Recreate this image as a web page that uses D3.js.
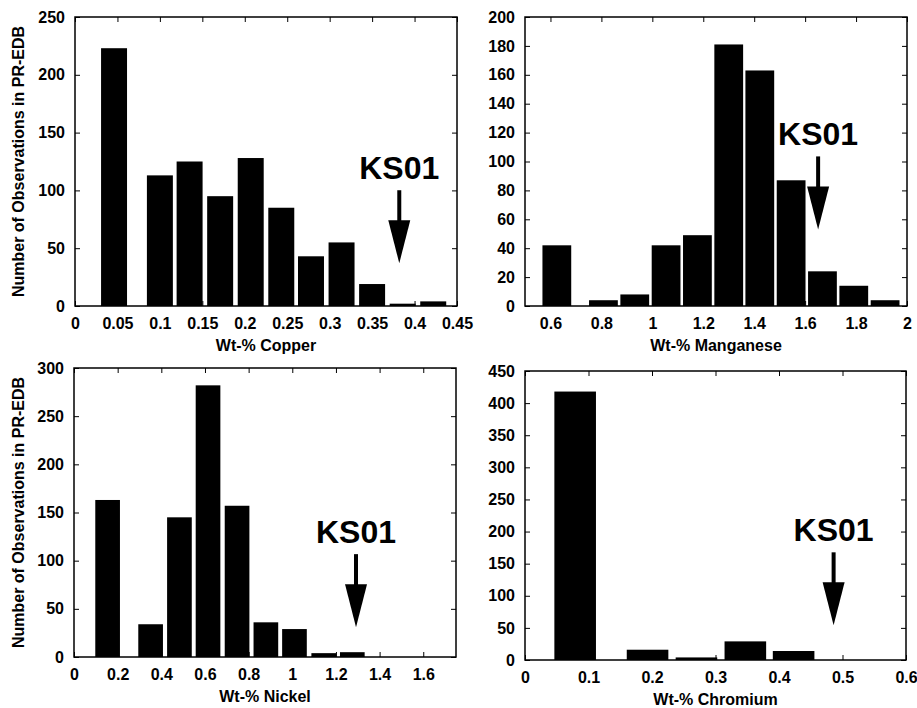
<!doctype html>
<html>
  <head>
    <script src="https://cdn.jsdelivr.net/npm/d3@7"></script>
    <style>
      body { margin: 0; background: #fff; }
      text { font-family: "Liberation Sans", Arial, sans-serif; font-weight: bold; }
      .tick text { font-size: 16px; }
      .axis-title { font-size: 16px; }
      .ks { font-size: 32px; }
    </style>
  </head>
  <body>
    <script>
      // histogram bins (bin centre, wt-%) and counts
      var cuBins   = [0.046, 0.100, 0.135, 0.171, 0.207, 0.243, 0.278, 0.314, 0.350, 0.386, 0.422];
      var cuCounts = [223, 113, 125, 95, 128, 85, 43, 55, 19, 2, 4];

      var mnBins   = [0.625, 0.808, 0.931, 1.054, 1.177, 1.300, 1.422, 1.545, 1.668, 1.791, 1.914];
      var mnCounts = [42, 4, 8, 42, 49, 181, 163, 87, 24, 14, 4];

      var niBins   = [0.154, 0.351, 0.483, 0.614, 0.747, 0.879, 1.010, 1.144, 1.275];
      var niCounts = [163, 34, 145, 282, 157, 36, 29, 4, 5];

      var crBins   = [0.079, 0.193, 0.270, 0.347, 0.423];
      var crCounts = [418, 16, 4, 29, 14];

      // tick values
      var cuXTicks = [0, 0.05, 0.1, 0.15, 0.2, 0.25, 0.3, 0.35, 0.4, 0.45];
      var cuYTicks = [0, 50, 100, 150, 200, 250];
      var mnXTicks = [0.6, 0.8, 1, 1.2, 1.4, 1.6, 1.8, 2];
      var mnYTicks = [0, 20, 40, 60, 80, 100, 120, 140, 160, 180, 200];
      var niXTicks = [0, 0.2, 0.4, 0.6, 0.8, 1, 1.2, 1.4, 1.6];
      var niYTicks = [0, 50, 100, 150, 200, 250, 300];
      var crXTicks = [0, 0.1, 0.2, 0.3, 0.4, 0.5, 0.6];
      var crYTicks = [0, 50, 100, 150, 200, 250, 300, 350, 400, 450];

      // KS01 arrow: composition and arrow tip height (counts)
      var ksLabel = "KS01";
      var ksX = [0.382, 1.651, 1.292, 0.486];
      var ksY = [37, 53, 31, 54];

      var xTitles = ["Wt-% Copper", "Wt-% Manganese", "Wt-% Nickel", "Wt-% Chromium"];
      var yTitle = "Number of Observations in PR-EDB";

      var panels = [
        {bins: cuBins, counts: cuCounts, xDom: [0, 0.45], yDom: [0, 250], xTicks: cuXTicks, yTicks: cuYTicks,
         barW: 0.0306, box: {l: 75, r: 457, t: 17, b: 306}, ytitle: true},
        {bins: mnBins, counts: mnCounts, xDom: [0.5, 2], yDom: [0, 200], xTicks: mnXTicks, yTicks: mnYTicks,
         barW: 0.113, box: {l: 525, r: 907, t: 17, b: 306}, ytitle: false},
        {bins: niBins, counts: niCounts, xDom: [0, 1.75], yDom: [0, 300], xTicks: niXTicks, yTicks: niYTicks,
         barW: 0.113, box: {l: 74, r: 456, t: 368, b: 657}, ytitle: true},
        {bins: crBins, counts: crCounts, xDom: [0, 0.6], yDom: [0, 450], xTicks: crXTicks, yTicks: crYTicks,
         barW: 0.0655, box: {l: 525, r: 906, t: 371, b: 660}, ytitle: false}
      ];

      var svg = d3.select("body").append("svg")
                  .attr("width", 917)
                  .attr("height", 708);

      panels.forEach(function(p, k) {
        var b = p.box;
        var x = d3.scaleLinear().domain(p.xDom).range([b.l, b.r]);
        var y = d3.scaleLinear().domain(p.yDom).range([b.b, b.t]);
        var g = svg.append("g");

        // bars
        g.selectAll("rect.bar")
          .data(p.bins)
          .enter().append("rect")
          .attr("class", "bar")
          .attr("x", function(d) { return x(d - p.barW / 2); })
          .attr("width", function(d) { return x(d + p.barW / 2) - x(d - p.barW / 2); })
          .attr("y", function(d, i) { return y(p.counts[i]); })
          .attr("height", function(d, i) { return y(0) - y(p.counts[i]); })
          .attr("fill", "#000");

        // axes, ticks pointing inward on all sides
        var fmt = function(d) { return String(d); };
        g.append("g").attr("transform", "translate(0," + b.b + ")")
          .call(d3.axisBottom(x).tickValues(p.xTicks).tickFormat(fmt).tickSizeInner(-5).tickSizeOuter(0).tickPadding(12));
        g.append("g").attr("transform", "translate(0," + b.t + ")")
          .call(d3.axisTop(x).tickValues(p.xTicks).tickFormat("").tickSizeInner(-5).tickSizeOuter(0));
        g.append("g").attr("transform", "translate(" + b.l + ",0)")
          .call(d3.axisLeft(y).tickValues(p.yTicks).tickFormat(fmt).tickSizeInner(-5).tickSizeOuter(0).tickPadding(10));
        g.append("g").attr("transform", "translate(" + b.r + ",0)")
          .call(d3.axisRight(y).tickValues(p.yTicks).tickFormat("").tickSizeInner(-5).tickSizeOuter(0));

        g.selectAll(".domain").remove();
        g.selectAll(".tick line").attr("stroke", "#000").attr("stroke-width", 1);
        g.selectAll(".tick text").attr("fill", "#000");

        // frame
        g.append("rect")
          .attr("x", b.l).attr("y", b.t)
          .attr("width", b.r - b.l).attr("height", b.b - b.t)
          .attr("fill", "none").attr("stroke", "#000").attr("stroke-width", 1.5);

        // titles
        g.append("text").attr("class", "axis-title")
          .attr("x", (b.l + b.r) / 2).attr("y", b.b + 45)
          .attr("text-anchor", "middle")
          .text(xTitles[k]);
        if (p.ytitle) {
          g.append("text").attr("class", "axis-title")
            .attr("transform", "translate(18," + (b.t + b.b) / 2 + ") rotate(-90)")
            .attr("text-anchor", "middle")
            .attr("dy", "0.35em")
            .text(yTitle);
        }

        // KS01 arrow
        var ax = x(ksX[k]), tip = y(ksY[k]);
        var headLen = 43, headHalf = 11, shaftLen = 30;
        g.append("path")
          .attr("d", "M" + ax + "," + tip +
                     "L" + (ax - headHalf) + "," + (tip - headLen) +
                     "L" + (ax + headHalf) + "," + (tip - headLen) + "Z")
          .attr("fill", "#000");
        g.append("line")
          .attr("x1", ax).attr("x2", ax)
          .attr("y1", tip - headLen - shaftLen).attr("y2", tip - headLen + 2)
          .attr("stroke", "#000").attr("stroke-width", 4);
        g.append("text").attr("class", "ks")
          .attr("x", ax).attr("y", tip - headLen - shaftLen - 11)
          .attr("text-anchor", "middle")
          .text(ksLabel);
      });
    </script>
  </body>
</html>
